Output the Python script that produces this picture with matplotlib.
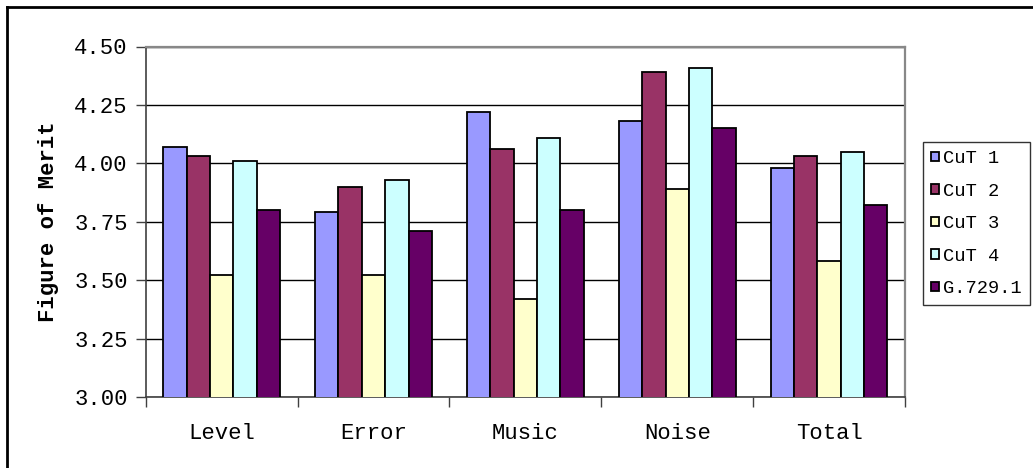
import matplotlib
matplotlib.use("Agg")
import matplotlib.pyplot as plt
from matplotlib.lines import Line2D
import numpy as np

categories = ["Level", "Error", "Music", "Noise", "Total"]
series_names = ["CuT 1", "CuT 2", "CuT 3", "CuT 4", "G.729.1"]
cut1 = [4.07, 3.79, 4.22, 4.18, 3.98]
cut2 = [4.03, 3.90, 4.06, 4.39, 4.03]
cut3 = [3.52, 3.52, 3.42, 3.89, 3.58]
cut4 = [4.01, 3.93, 4.11, 4.41, 4.05]
g7291 = [3.80, 3.71, 3.80, 4.15, 3.82]
y_ticks = [3.00, 3.25, 3.50, 3.75, 4.00, 4.25, 4.50]

colors = ["#9999FF", "#993366", "#FFFFCC", "#CCFFFF", "#660066"]
font = "Liberation Mono"
fs = 16
fs_leg = 13.5

W, H = 1033, 468
fig = plt.figure(figsize=(W / 100, H / 100), dpi=100)
ax = fig.add_axes([145.7 / W, 1 - 397 / H, (905 - 145.7) / W, (397 - 46.5) / H])

series = [cut1, cut2, cut3, cut4, g7291]
n = len(series)
bw = 1.0 / (n + 1.5)
x = np.arange(len(categories)) + 0.5
for k, (vals, name, c) in enumerate(zip(series, series_names, colors)):
    offs = (k - (n - 1) / 2) * bw
    ax.bar(x + offs, vals, width=bw, color=c, edgecolor="black",
           linewidth=1.3, label=name, zorder=3)

ax.set_xlim(0, len(categories))
ax.set_ylim(3.0, 4.5)
ax.set_yticks(y_ticks)
ax.set_yticklabels([f"{v:.2f}" for v in y_ticks], fontfamily=font, fontsize=fs)
ax.yaxis.grid(True, color="black", linewidth=1.0, zorder=0)
ax.set_axisbelow(True)

ax.set_xticks(np.arange(len(categories) + 1))
ax.set_xticklabels([])
ax.set_xticks(x, minor=True)
ax.set_xticklabels(categories, minor=True, fontfamily=font, fontsize=fs)
ax.tick_params(axis="x", which="minor", length=0, pad=19)
ax.tick_params(axis="x", which="major", length=7, width=1, color="#404040")
ax.tick_params(axis="y", length=7, width=1, color="#404040", pad=6)

for s in ["top", "right"]:
    ax.spines[s].set_color("#888888")
    ax.spines[s].set_linewidth(1.6)
for s in ["left", "bottom"]:
    ax.spines[s].set_color("#404040")
    ax.spines[s].set_linewidth(1.2)

ax.set_ylabel("Figure of Merit", fontfamily=font, fontsize=fs,
              fontweight="bold", labelpad=11)

leg = fig.legend(loc="upper left", bbox_to_anchor=(923 / W, 1 - 142 / H),
                 prop={"family": font, "size": fs_leg}, frameon=True,
                 fancybox=False, edgecolor="black", borderpad=0.45,
                 handlelength=0.4, handleheight=0.4, handletextpad=0.2,
                 labelspacing=0.82, borderaxespad=0)
leg.get_frame().set_linewidth(1.0)

# outer chart frame
fig.add_artist(Line2D([7 / W, 1], [1 - 7 / H, 1 - 7 / H], color="black",
                      linewidth=2, transform=fig.transFigure))
fig.add_artist(Line2D([7 / W, 7 / W], [0, 1 - 7 / H], color="black",
                      linewidth=2, transform=fig.transFigure))

fig.savefig("out.png", dpi=100)
